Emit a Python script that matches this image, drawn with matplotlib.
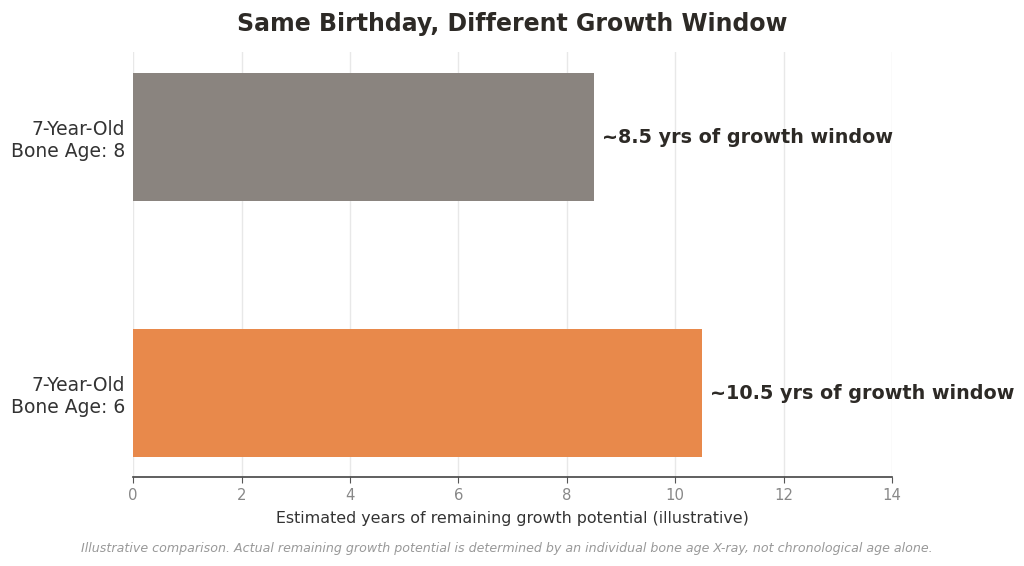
import matplotlib
matplotlib.use("Agg")
import matplotlib.pyplot as plt

plt.rcParams["font.family"] = ["DejaVu Sans"]

categories = ["7-Year-Old\nBone Age: 6", "7-Year-Old\nBone Age: 8"]
values = [10.5, 8.5]
labels = ["~10.5 yrs of growth window", "~8.5 yrs of growth window"]
colors = ["#E8894B", "#8A847F"]
xticks = [0, 2, 4, 6, 8, 10, 12, 14]

fig = plt.figure(figsize=(10.24, 5.66), dpi=100)
ax = fig.add_axes([0.130, 0.157, 0.741, 0.751])

ypos = list(range(len(categories)))
ax.barh(ypos, values, height=0.5, color=colors, zorder=3)
for y, v, t in zip(ypos, values, labels):
    ax.text(v + 0.15, y, t, va="center", ha="left", fontsize=13.8,
            fontweight="bold", color="#2d2a26")

ax.set_xlim(0, 14)
ax.set_ylim(-0.328, 1.332)
ax.set_xticks(xticks)
ax.set_yticks(ypos)
ax.set_yticklabels(categories, fontsize=13.5, color="#333333")
ax.tick_params(axis="y", length=0, pad=6)
ax.tick_params(axis="x", labelsize=10.7, labelcolor="#888888", color="#555555", length=4)
ax.grid(axis="x", color="#e8e8e8", linewidth=1, zorder=0)
for s in ["top", "right", "left"]:
    ax.spines[s].set_visible(False)
ax.spines["bottom"].set_color("#444444")
ax.spines["bottom"].set_linewidth(1.2)
ax.set_xlabel("Estimated years of remaining growth potential (illustrative)",
              fontsize=11.4, color="#333333", labelpad=6)

fig.suptitle("Same Birthday, Different Growth Window", fontsize=17,
             fontweight="bold", color="#2d2a26", x=0.5, y=0.978)
fig.text(0.495, 0.031, "Illustrative comparison. Actual remaining growth potential is determined by an individual bone age X-ray, not chronological age alone.",
         ha="center", va="center", fontsize=9.1, style="italic", color="#999999")

fig.savefig("out.png", dpi=100)
